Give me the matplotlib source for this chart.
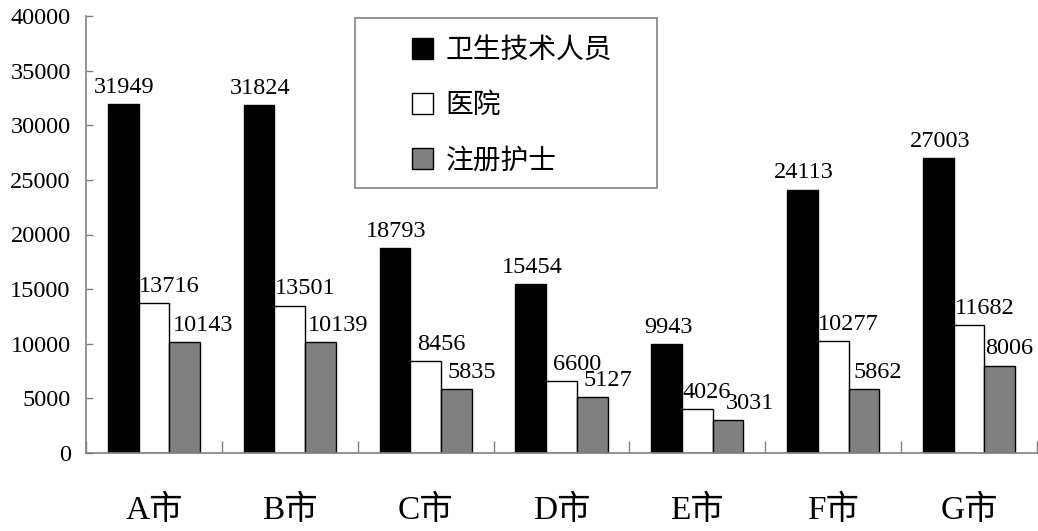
import matplotlib
matplotlib.use("Agg")
import matplotlib.pyplot as plt
import numpy as np
from matplotlib.patches import Patch, Rectangle

plt.rcParams['font.family'] = ['Liberation Serif', 'Noto Sans CJK SC', 'DejaVu Sans']

categories = ["A市", "B市", "C市", "D市", "E市", "F市", "G市"]
series_names = ["卫生技术人员", "医院", "注册护士"]
tech_staff = [31949, 31824, 18793, 15454, 9943, 24113, 27003]
hospitals = [13716, 13501, 8456, 6600, 4026, 10277, 11682]
nurses = [10143, 10139, 5835, 5127, 3031, 5862, 8006]
y_ticks = [0, 5000, 10000, 15000, 20000, 25000, 30000, 35000, 40000]

colors = ["#000000", "#ffffff", "#808080"]
label_dx = [  # horizontal label offsets in points per series
    [1, 1, 1, 1, 1, 1, 1],
    [11, 11, 11, 11, 7, 11, 11],
    [13, 13, 11, 11, 16, 10, 7],
]

W, H = 1038, 531
fig = plt.figure(figsize=(W/100, H/100), dpi=100)
ax = fig.add_axes([86/W, 1 - 453/H, 951/W, (453-16)/H])

x = np.arange(len(categories))
w = 0.226
series = [tech_staff, hospitals, nurses]
for i, (vals, c) in enumerate(zip(series, colors)):
    xs = x + (i - 1) * w
    ax.bar(xs, vals, width=w, color=c, edgecolor="black", linewidth=1.0, zorder=2)
    for j, (xx, v) in enumerate(zip(xs, vals)):
        ax.annotate(str(v), (xx, v), xytext=(label_dx[i][j], 8), textcoords="offset points",
                    ha="center", va="baseline", fontsize=17.5)

ax.set_xlim(-0.5, len(categories) - 0.5)
ax.set_ylim(0, 40000)
ax.set_yticks(y_ticks)
ax.set_yticklabels([str(t) for t in y_ticks], fontsize=17.5)
ax.tick_params(axis="y", direction="in", length=5, width=1, color="#808080", pad=11)

ax.set_xticks(x)
ax.set_xticklabels(categories, fontsize=24)
ax.tick_params(axis="x", which="major", length=0, pad=30)
ax.set_xticks(np.arange(len(categories) + 1) - 0.5, minor=True)
ax.tick_params(axis="x", which="minor", direction="in", length=9, width=1, color="#808080")

for s in ["top", "right"]:
    ax.spines[s].set_visible(False)
for s in ["left", "bottom"]:
    ax.spines[s].set_color("#808080")
    ax.spines[s].set_linewidth(1.2)

# legend frame drawn separately
fig.patches.append(Rectangle((355/W, 1 - 188/H), (657-355)/W, (188-18)/H,
                             transform=fig.transFigure, facecolor="white",
                             edgecolor="#808080", linewidth=1.2, zorder=5))
handles = [Patch(facecolor=c, edgecolor="black", linewidth=1.0) for c in colors]
leg = fig.legend(handles, series_names, loc="upper left",
                 bbox_to_anchor=(404/W, 1 - 30/H), bbox_transform=fig.transFigure,
                 fontsize=20, frameon=False,
                 handlelength=0.75, handleheight=0.75, handletextpad=0.45,
                 labelspacing=1.05, borderpad=0.3, borderaxespad=0)
leg.set_zorder(6)

fig.savefig("out.png", dpi=100)
